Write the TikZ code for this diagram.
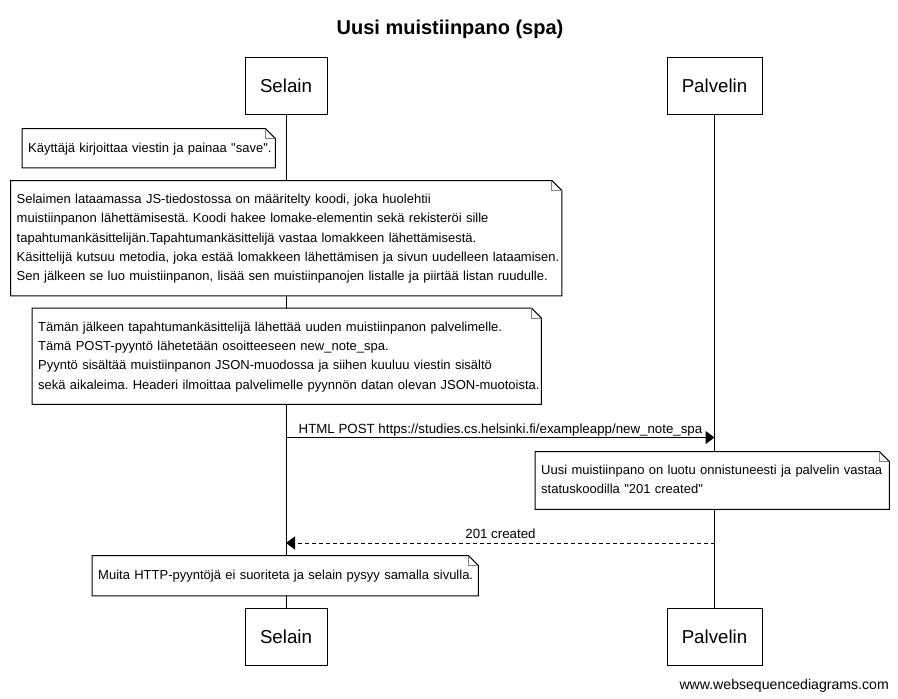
\documentclass[tikz,border=0pt]{standalone}
\usepackage{fontspec}
\setmainfont{Liberation Sans}[Ligatures=TeXOff]
\usetikzlibrary{arrows.meta}
\frenchspacing
\newcommand\notefold[1]{%
  \draw[line width=1pt] (#1.north west) -- ([xshift=-10pt]#1.north east) -- ([yshift=-10pt]#1.north east) -- (#1.south east) -- (#1.south west) -- cycle;
  \draw[line width=1pt, draw=foldgray] ([xshift=-10pt]#1.north east) |- ([yshift=-10pt]#1.north east);}
\definecolor{foldgray}{RGB}{128,128,128}
\begin{document}
\begin{tikzpicture}[x=1pt,y=-1pt,
  actor/.style={draw, line width=1pt, fill=white, inner sep=0pt, font=\fontsize{18.7}{22}\selectfont},
  notebox/.style={fill=white, anchor=north west, inner xsep=6pt, inner ysep=0pt, align=left, font=\fontsize{13}{19.3}\selectfont\frenchspacing},
  msg/.style={line width=1pt, -{Triangle[length=9pt, width=13pt]}},
  reply/.style={line width=1pt, dash pattern=on 4pt off 3pt, -{Triangle[length=9pt, width=13pt]}},
  lbl/.style={anchor=base, inner sep=0pt, font=\fontsize{13.3}{16}\selectfont},
  lifeline/.style={line width=1pt}]
\useasboundingbox (0,0) rectangle (898,699);
\fill[white] (0,0) rectangle (898,699);

\node[anchor=base, inner sep=0pt, font=\bfseries\fontsize{20}{24}\selectfont] (title) at (450,34) {Uusi muistiinpano (spa)};

\node[actor, minimum width=82pt, minimum height=57pt] (s1) at (286,85.5) {Selain};
\node[actor, minimum width=95pt, minimum height=57pt] (p1) at (714.5,85.5) {Palvelin};
\node[actor, minimum width=82pt, minimum height=57pt] (s2) at (286,636.5) {Selain};
\node[actor, minimum width=95pt, minimum height=57pt] (p2) at (714.5,636.5) {Palvelin};

\draw[lifeline] (s1.south) -- (s2.north);
\draw[lifeline] (p1.south) -- (p2.north);

\node[notebox, text width=241pt, minimum height=39pt] (n1) at (22,128.5) {\begin{tabular}{@{}l@{}}Käyttäjä kirjoittaa viestin ja painaa "save".\end{tabular}};
\notefold{n1}

\node[notebox, text width=539pt, minimum height=115pt] (n2) at (10.5,180.5) {\begin{tabular}{@{}l@{}}Selaimen lataamassa JS-tiedostossa on määritelty koodi, joka huolehtii\\
muistiinpanon lähettämisestä. Koodi hakee lomake-elementin sekä rekisteröi sille\\
tapahtumankäsittelijän.Tapahtumankäsittelijä vastaa lomakkeen lähettämisestä.\\
Käsittelijä kutsuu metodia, joka estää lomakkeen lähettämisen ja sivun uudelleen lataamisen.\\
Sen jälkeen se luo muistiinpanon, lisää sen muistiinpanojen listalle ja piirtää listan ruudulle.\end{tabular}};
\notefold{n2}

\node[notebox, text width=497pt, minimum height=96pt] (n3) at (32,308) {\begin{tabular}{@{}l@{}}Tämän jälkeen tapahtumankäsittelijä lähettää uuden muistiinpanon palvelimelle.\\
Tämä POST-pyyntö lähetetään osoitteeseen new\_note\_spa.\\
Pyyntö sisältää muistiinpanon JSON-muodossa ja siihen kuuluu viestin sisältö\\
sekä aikaleima. Headeri ilmoittaa palvelimelle pyynnön datan olevan JSON-muotoista.\end{tabular}};
\notefold{n3}

\coordinate (yh) at (0,437.5);
\coordinate (hs) at (s1.south |- yh);
\coordinate (he) at (p1.south |- yh);
\draw[msg] (hs) -- (he);
\node[lbl] (hl) at (500.5,433.5) {HTML POST https://studies.cs.helsinki.fi/exampleapp/new\_note\_spa};

\node[notebox, text width=342pt, minimum height=57.5pt] (n4) at (535,451.5) {\begin{tabular}{@{}l@{}}Uusi muistiinpano on luotu onnistuneesti ja palvelin vastaa\\
statuskoodilla "201 created"\end{tabular}};
\notefold{n4}

\coordinate (yr) at (0,543);
\coordinate (rs) at (p1.south |- yr);
\coordinate (re) at (s1.south |- yr);
\draw[reply] (rs) -- (re);
\node[lbl] (rl) at (500.5,538.5) {201 created};

\node[notebox, text width=374pt, minimum height=40pt] (n5) at (92,555.5) {\begin{tabular}{@{}l@{}}Muita HTTP-pyyntöjä ei suoriteta ja selain pysyy samalla sivulla.\end{tabular}};
\notefold{n5}

\node[anchor=base east, inner sep=0pt, font=\fontsize{14.1}{16}\selectfont] (footer) at (889,689) {www.websequencediagrams.com};
\end{tikzpicture}
\end{document}
